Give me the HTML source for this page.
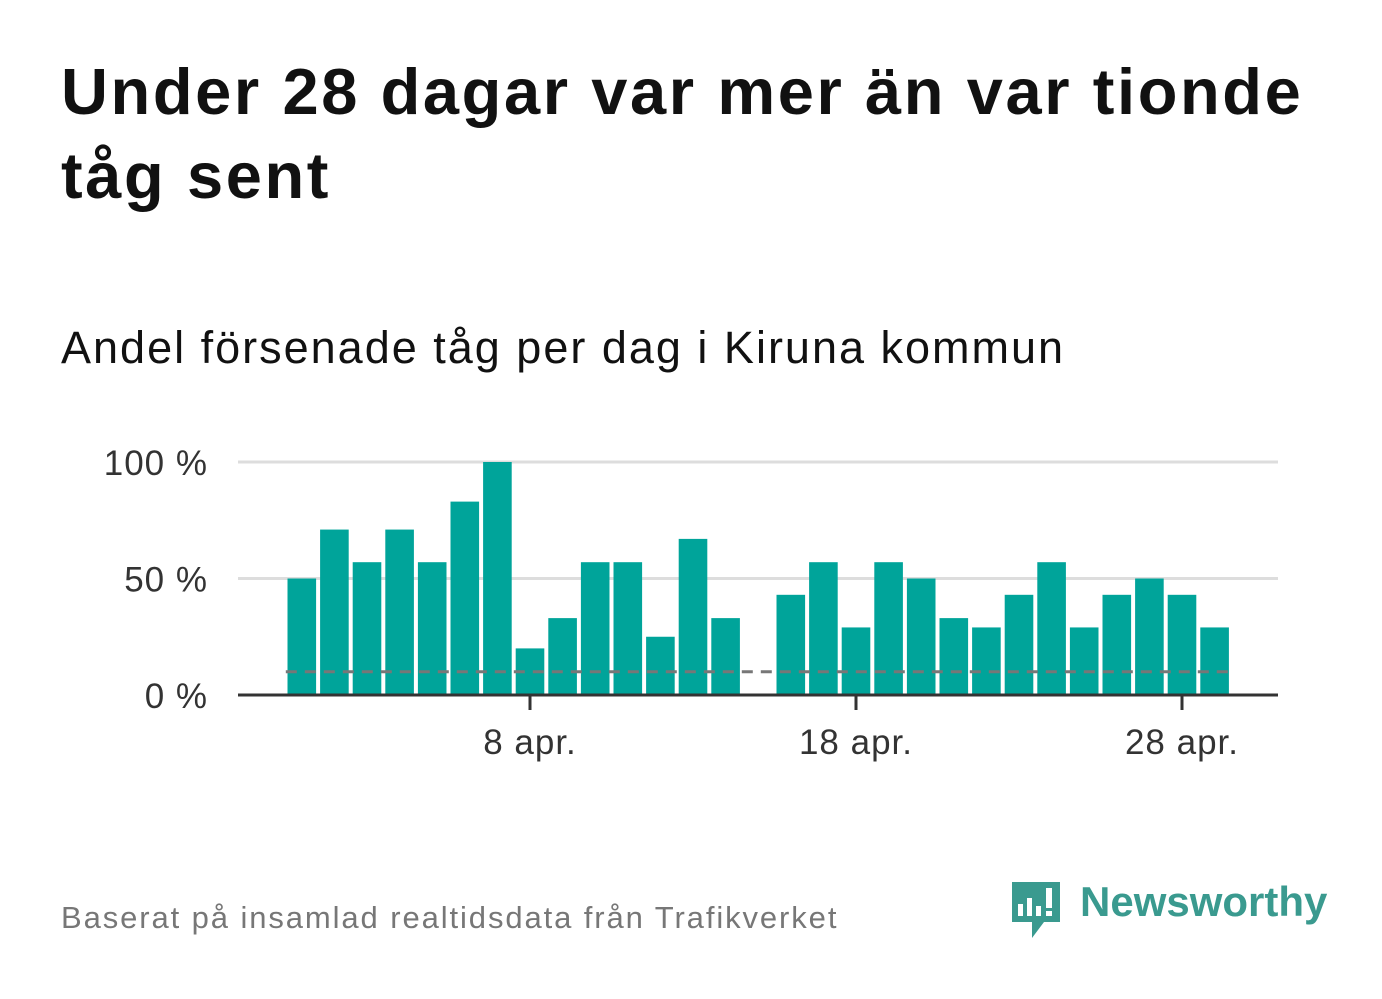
<!DOCTYPE html>
<html><head><meta charset="utf-8"><style>
body{margin:0;width:1382px;height:999px;background:#fff;font-family:"Liberation Sans","DejaVu Sans",sans-serif;overflow:hidden;position:relative}
h1{position:absolute;left:61px;top:50px;margin:0;font-size:65px;line-height:84px;font-weight:bold;color:#111;width:1270px;letter-spacing:2.6px}
.sub{position:absolute;left:61px;top:322px;font-size:45px;color:#111;letter-spacing:2px}
.src{position:absolute;left:61px;top:900px;font-size:31px;color:#777;letter-spacing:1.9px}
.logo{position:absolute;left:1080px;top:878px;font-size:42px;font-weight:bold;color:#3a9a8f}
svg{position:absolute;left:0;top:0}
</style></head><body>
<h1>Under 28 dagar var mer än var tionde tåg sent</h1>
<div class="sub">Andel försenade tåg per dag i Kiruna kommun</div>
<div class="src">Baserat på insamlad realtidsdata från Trafikverket</div>
<svg width="1382" height="999">
<g id="grid"></g><g id="bars"></g><g id="over"></g>
<g><path d="M1012 882h48v40h-16l-12 16v-16h-20z" fill="#3a9a8f"/><rect x="1018" y="904" width="5" height="12" fill="#fff"/><rect x="1027" y="898" width="5" height="18" fill="#fff"/><rect x="1036" y="906" width="5" height="10" fill="#fff"/><rect x="1046" y="888" width="6" height="20" fill="#fff"/><rect x="1046" y="911" width="6" height="5" fill="#fff"/></g>
</svg>
<div class="logo">Newsworthy</div>
<script>
const days=[1,2,3,4,5,6,7,8,9,10,11,12,13,14,15,16,17,18,19,20,21,22,23,24,25,26,27,28,29];
const values=[50,71,57,71,57,83,100,20,33,57,57,25,67,33,null,43,57,29,57,50,33,29,43,57,29,43,50,43,29];
const yTicks=[0,50,100];
const yTickLabels=["0 %","50 %","100 %"];
const xTicks=[8,18,28];
const xTickLabels=["8 apr.","18 apr.","28 apr."];
const threshold=10;
const NS="http://www.w3.org/2000/svg";
const x=d=>530+(d-8)*32.6;
const y=v=>695-v*2.33;
function mk(p,t,a){const e=document.createElementNS(NS,t);for(const k in a)e.setAttribute(k,a[k]);document.getElementById(p).appendChild(e);return e;}
yTicks.forEach((t,i)=>{
 if(t>0){const l=mk('grid','line',{x1:238,x2:1278,y1:y(t),y2:y(t),stroke:'#ddd','stroke-width':3});
 
 }
 const tx=mk('grid','text',{x:208,y:y(t)+13,'text-anchor':'end','font-size':35,fill:'#333','letter-spacing':1});
 tx.textContent=yTickLabels[i];
 
 
});
days.forEach((d,i)=>{if(values[i]==null)return;
 const r=mk('bars','rect',{x:x(d)-14.3,y:y(values[i]),width:28.6,height:695-y(values[i]),fill:'#00a49a'});
 
 
});
const dl=mk('over','line',{x1:x(1)-16,x2:x(29)+16,y1:y(threshold),y2:y(threshold),stroke:'#777','stroke-width':3,'stroke-dasharray':'11 8'});


const ax=mk('over','line',{x1:238,x2:1278,y1:695,y2:695,stroke:'#333','stroke-width':3});


xTicks.forEach((d,i)=>{
 const tk=mk('over','line',{x1:x(d),x2:x(d),y1:695,y2:710,stroke:'#333','stroke-width':3});
 
 
 const tx=mk('over','text',{x:x(d),y:754,'text-anchor':'middle','font-size':35,fill:'#333','letter-spacing':1});
 tx.textContent=xTickLabels[i];
 
 
});
</script>
</body></html>
